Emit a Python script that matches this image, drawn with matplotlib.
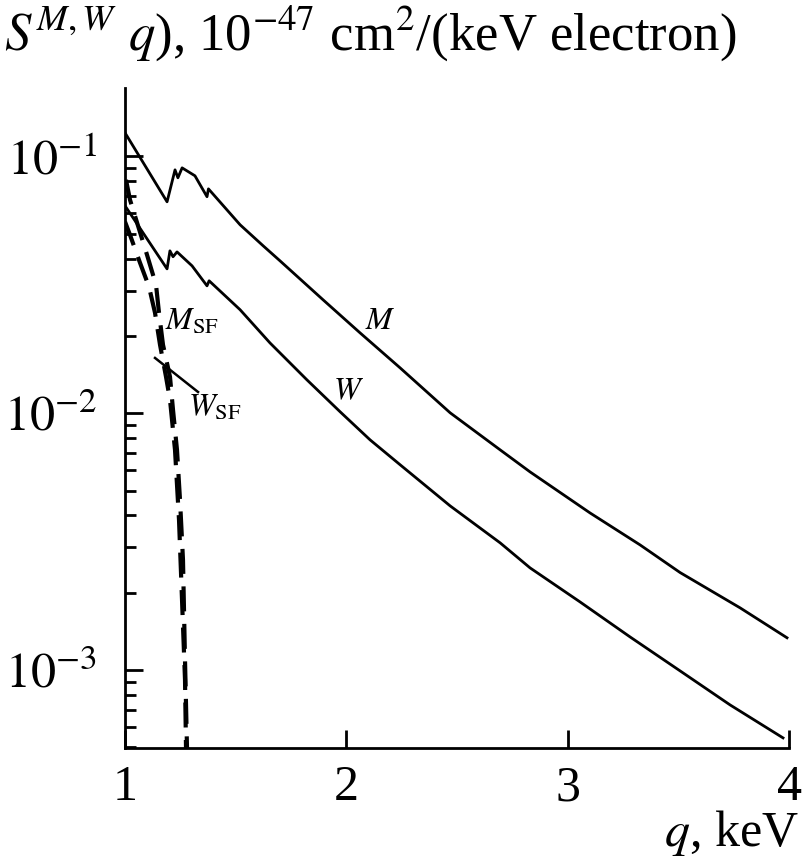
import matplotlib
matplotlib.use('Agg')
import matplotlib.pyplot as plt
import numpy as np

plt.rcParams['font.family'] = ['Liberation Serif', 'DejaVu Serif']
plt.rcParams['mathtext.fontset'] = 'stix'

# curve M (solid)
q_M = [1.000, 1.190, 1.226, 1.239, 1.258, 1.316, 1.3705, 1.377, 1.520, 1.624,
       1.700, 1.895, 2.062, 2.243, 2.469, 2.695, 2.830, 3.101, 3.327, 3.508,
       3.779, 3.991]
S_M = [0.1237, 0.0666, 0.0887, 0.0826, 0.0903, 0.0841, 0.0697, 0.0748, 0.0542, 0.0449,
       0.03925, 0.02765, 0.02056, 0.01502, 0.01004, 0.0072, 0.00591, 0.00409, 0.003071,
       0.002396, 0.001746, 0.001335]

# curve W (solid)
q_W = [1.000, 1.190, 1.203, 1.217, 1.235, 1.303, 1.3705, 1.380, 1.520, 1.655,
       1.822, 1.972, 2.107, 2.243, 2.469, 2.695, 2.830, 3.056, 3.282, 3.508,
       3.734, 3.973]
S_W = [0.0643, 0.0365, 0.0429, 0.0407, 0.0425, 0.0375, 0.03135, 0.0328, 0.0253, 0.01879,
       0.01349, 0.01013, 0.00788, 0.0063, 0.004357, 0.003127, 0.002499, 0.001841,
       0.001345, 0.000992, 0.000731, 0.000544]

# spin-flip curves (dashed)
q_MSF = [1.0045, 1.0226, 1.0994, 1.1401, 1.1536, 1.1717, 1.2033, 1.2169, 1.2349,
         1.2485, 1.2620, 1.2711, 1.2801]
S_MSF = [0.0811, 0.0678, 0.0414, 0.03163, 0.02461, 0.01847, 0.01386, 0.01031, 0.0072,
         0.004599, 0.002685, 0.001095, 0.000497]

q_WSF = [1.000, 1.0226, 1.0678, 1.1085, 1.1356, 1.1582, 1.1853, 1.2033, 1.2259,
         1.2440, 1.2576, 1.2711, 1.2756]
S_WSF = [0.0557, 0.0495, 0.03855, 0.03107, 0.02461, 0.01847, 0.01386, 0.01128, 0.0072,
         0.003843, 0.001875, 0.000915, 0.000497]

# leader line for the W_SF label
lead_q = [1.1356, 1.3299]
lead_S = [0.01642, 0.01210]

fig = plt.figure(figsize=(8.07, 8.63), dpi=100)
ax = fig.add_axes([0.1549, 0.1333, 0.8228, 0.765])

ax.plot(q_M, S_M, 'k-', lw=2)
ax.plot(q_W, S_W, 'k-', lw=2)
ax.plot(q_MSF, S_MSF, 'k--', lw=3, dashes=(6, 3))
ax.plot(q_WSF, S_WSF, 'k--', lw=3, dashes=(6, 3))
ax.plot(lead_q, lead_S, 'k-', lw=1.8)

ax.set_yscale('log')
ax.set_xlim(1, 4)
ax.set_ylim(4.97e-4, 0.1852)
ax.set_xticks([1, 2, 3, 4])
ax.set_xticklabels(['1', '2', '3', '4'])
ax.set_yticks([1e-3, 1e-2, 1e-1])
ax.set_yticklabels(['$10^{-3}$', '$10^{-2}$', '$10^{-1}$'])

for s in ['top', 'right']:
    ax.spines[s].set_visible(False)
for s in ['left', 'bottom']:
    ax.spines[s].set_linewidth(2)

ax.tick_params(axis='both', which='major', direction='in', length=13, width=2,
               labelsize=36, pad=12)
ax.tick_params(axis='y', which='minor', direction='in', length=8, width=2)
ax.tick_params(axis='x', which='minor', bottom=False)
ax.tick_params(axis='y', which='major', pad=20)

ax.text(2.152, 0.02269, '$M$', fontsize=23, ha='center', va='center')
ax.text(2.008, 0.01212, '$W$', fontsize=23, ha='center', va='center')
ax.text(1.181, 0.02269, r'$M_{\rm SF}$', fontsize=23, ha='left', va='center')
ax.text(1.285, 0.0105, r'$W_{\rm SF}$', fontsize=23, ha='left', va='center')

fig.text(0.005, 0.942, r'$S^{M,W}$ $q$), 10$^{-47}$ cm$^2$/(keV electron)', fontsize=38,
         ha='left', va='baseline')
fig.text(0.99, 0.02, '$q$, keV', fontsize=36, ha='right', va='baseline')

fig.savefig('out.png', dpi=100)
